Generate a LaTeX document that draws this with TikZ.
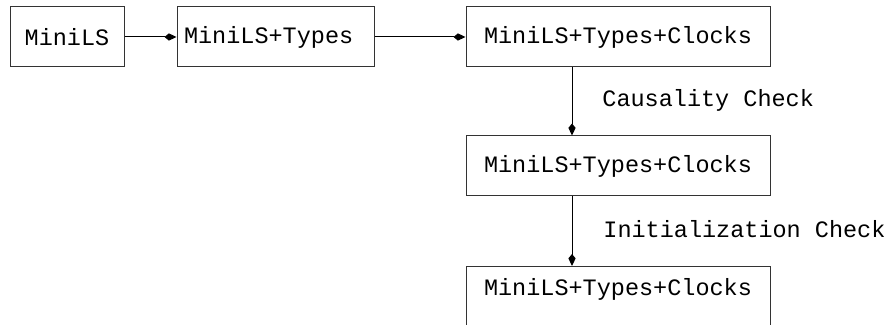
\documentclass[tikz,border=0pt]{standalone}
\usepackage{fontspec}
\setmainfont{Liberation Mono}
\usetikzlibrary{arrows.meta}
\tikzset{
  stage/.style={draw=black!80,line width=0.5pt,minimum height=30pt,inner sep=0pt,
    font=\fontsize{11.75}{14}\selectfont},
  pass/.style={line width=0.5pt,-{Kite[length=6pt,width=3.6pt,inset=2.2pt]}},
  passlabel/.style={anchor=west,inner sep=0pt,font=\fontsize{11.75}{14}\selectfont}
}
\begin{document}
\begin{tikzpicture}[x=0.5pt,y=-0.5pt]
        \clip (0,0) rectangle (888,325);
        \useasboundingbox (0,0) rectangle (888,325);
        % the compiler stages
        \node (mini) [stage,minimum width=57pt] at (67,37) {MiniLS};
        \node (types) [stage,text width=91.5pt,inner xsep=3.5pt,align=left] at (275.5,37) {MiniLS+Types};
        \node (clocks) [stage,minimum width=152pt] at (618,37) {MiniLS+Types+Clocks};
        \node (causal) [stage,minimum width=152pt] at (618,166) {MiniLS+Types+Clocks};
        \node (init) [stage,minimum width=152pt,anchor=north,text depth=30pt,
                inner ysep=6pt] at (618,266) {MiniLS+Types+Clocks};
        % the passes
        \draw[pass] (mini) -- (types);
        \draw[pass] (types) -- (clocks);
        \draw[pass] ([xshift=-23pt]clocks.south) -- ([xshift=-23pt]causal.north);
        \draw[pass] ([xshift=-23pt]causal.south) -- ([xshift=-23pt]init.north);
        \node (causalcheck) [passlabel] at (602,100) {Causality Check};
        \node (initcheck) [passlabel] at (603,229) {Initialization Check};
    \end{tikzpicture}
\end{document}
